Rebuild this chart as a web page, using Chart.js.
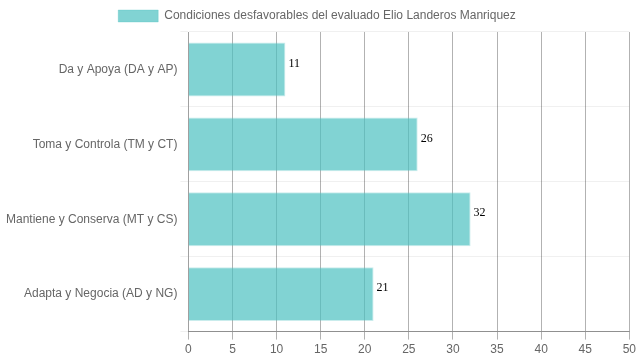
<!DOCTYPE html>
<html lang="es">
<head>
    <meta charset="UTF-8">
    <title>Condiciones desfavorables</title>
    <style>
        body { margin: 0; background: white; }
        #wrap { width: 639px; height: 360px; }
    </style>
    <script src="https://cdn.jsdelivr.net/npm/chart.js"></script>
</head>
<body>
    <div id="wrap"><canvas id="grafico"></canvas></div>
    <script>
        // datos del grafico
        const categorias = ['Da y Apoya (DA y AP)', 'Toma y Controla (TM y CT)', 'Mantiene y Conserva (MT y CS)', 'Adapta y Negocia (AD y NG)'];
        const valores = [11, 26, 32, 21];
        const etiquetaSerie = 'Condiciones desfavorables del evaluado Elio Landeros Manriquez';

        Chart.defaults.font.family = '"Liberation Sans", Arial, sans-serif';
        Chart.defaults.font.size = 12;
        Chart.defaults.color = '#666';

        // escribe el valor al final de cada barra
        const valoresBarra = {
            id: 'valoresBarra',
            afterDatasetsDraw(chart) {
                const ctx = chart.ctx;
                ctx.save();
                ctx.font = '12px "Liberation Serif", "Times New Roman", serif';
                ctx.fillStyle = '#000';
                ctx.textAlign = 'left';
                ctx.textBaseline = 'bottom';
                chart.getDatasetMeta(0).data.forEach((bar, i) => {
                    ctx.fillText(valores[i], bar.x + 3, bar.y);
                });
                ctx.restore();
            }
        };

        new Chart(document.getElementById('grafico'), {
            type: 'bar',
            data: {
                labels: categorias,
                datasets: [{
                    label: etiquetaSerie,
                    data: valores,
                    backgroundColor: 'rgba(75, 192, 192, 0.7)',
                    borderColor: 'rgba(75, 192, 192, 0.3)',
                    borderWidth: 1
                }]
            },
            options: {
                indexAxis: 'y',
                responsive: true,
                maintainAspectRatio: false,
                animation: false,
                layout: { padding: { left: 3, right: 8, bottom: 0 } },
                plugins: {
                    legend: {
                        labels: { boxWidth: 40, color: '#666' }
                    },
                    tooltip: { enabled: false }
                },
                scales: {
                    x: {
                        min: 0,
                        max: 50,
                        ticks: { stepSize: 5 },
                        grid: { color: 'rgba(0, 0, 0, 0.3)' },
                        border: { color: 'rgba(0, 0, 0, 0.4)' }
                    },
                    y: {
                        grid: { color: 'rgba(0, 0, 0, 0.06)' }
                    }
                }
            },
            plugins: [valoresBarra]
        });
    </script>
</body>
</html>
